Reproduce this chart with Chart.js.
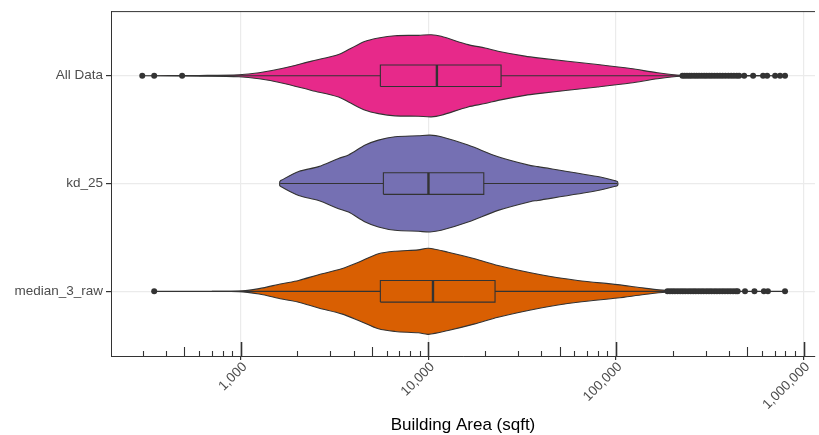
<!DOCTYPE html>
<html>
<head>
<meta charset="utf-8">
<script src="https://cdn.jsdelivr.net/npm/chart.js@4.4.1/dist/chart.umd.min.js"></script>
<style>
  body { margin: 0; background: #ffffff; }
  #wrap { width: 819px; height: 435px; }
</style>
</head>
<body>
<div id="wrap"><canvas id="myChart"></canvas></div>
<script>
// categories, top to bottom
const categories = ['All Data', 'kd_25', 'median_3_raw'];
const colors = ['#E7298A', '#7570B3', '#D95F02'];

// violin outlines: building area (sqft) and half width (category units)
const allDataArea = [298, 600, 976, 1250, 1652, 2383, 3317, 3749, 4602, 5409, 6637, 8836, 10350, 11690, 16260, 20030, 23500, 32680, 38300, 79830, 119600, 166300, 220500, 350000, 816000];
const allDataWidth = [0, 0.003, 0.009, 0.028, 0.067, 0.136, 0.197, 0.243, 0.320, 0.351, 0.372, 0.375, 0.381, 0.366, 0.289, 0.258, 0.228, 0.182, 0.166, 0.104, 0.067, 0.028, 0.005, 0.002, 0];

const kd25Area = [1611, 1640, 2032, 2594, 3317, 3749, 4602, 5409, 6637, 8836, 10190, 11690, 16260, 23500, 35160, 38300, 79830, 99500, 101900];
const kd25Width = [0.018, 0.030, 0.111, 0.157, 0.233, 0.265, 0.357, 0.403, 0.434, 0.443, 0.449, 0.434, 0.357, 0.249, 0.166, 0.157, 0.065, 0.025, 0.018];

const median3Area = [345, 976, 1250, 1652, 2032, 2594, 3443, 4239, 5409, 6637, 8836, 9977, 12740, 17650, 23500, 39730, 62490, 101900, 141400, 183500, 300000, 796000];
const median3Width = [0, 0.003, 0.025, 0.071, 0.101, 0.154, 0.209, 0.270, 0.348, 0.372, 0.385, 0.399, 0.363, 0.302, 0.240, 0.154, 0.101, 0.062, 0.030, 0.009, 0.002, 0];

// boxplot stats: [whisker low, Q1, median, Q3, whisker high]
const allDataBox = [600, 5540, 11090, 24380, 220000];
const kd25Box = [1620, 5750, 10000, 19720, 101500];
const median3Box = [700, 5540, 10570, 22640, 183000];

// outliers
const allDataOutliers = [298, 345, 486,
  226000, 232000, 239000, 246000, 253000, 261000, 269000, 277000, 286000, 295000, 304000, 314000,
  324000, 335000, 346000, 358000, 370000, 383000, 397000, 411000, 425000, 440000, 453000,
  482000, 538000, 608000, 639000, 705000, 749000, 796000];
const kd25Outliers = [];
const median3Outliers = [345,
  188000, 194000, 200000, 206000, 213000, 220000, 227000, 234000, 242000, 250000, 258000, 266000,
  275000, 284000, 293000, 303000, 313000, 323000, 334000, 345000, 357000, 369000, 381000, 394000,
  407000, 421000, 435000, 445000, 487000, 547000, 614000, 645000, 796000];

const xTicks = [1000, 10000, 100000, 1000000];

const boxHalf = 0.1;

function violinPoints(area, width, pos) {
    var top = area.map(function (a, i) { return {x: a, y: pos + width[i]}; });
    var bottom = [];
    for (var i = area.length - 1; i >= 0; i--) {
        if (width[i] > 0) bottom.push({x: area[i], y: pos - width[i]});
    }
    return top.concat(bottom, [top[0]]);
}

function lineSet(points, width, order) {
    return {
        data: points, borderColor: '#333333', borderWidth: width,
        pointRadius: 0, fill: false, tension: 0, order: order
    };
}

const series = [
    [allDataArea, allDataWidth, allDataBox, allDataOutliers],
    [kd25Area, kd25Width, kd25Box, kd25Outliers],
    [median3Area, median3Width, median3Box, median3Outliers]
];

var datasets = [];
series.forEach(function (s, i) {
    var pos = 3 - i;
    var b = s[2];
    datasets.push({
        data: violinPoints(s[0], s[1], pos),
        fill: 'shape',
        backgroundColor: colors[i],
        borderColor: '#333333',
        borderWidth: 1.1,
        pointRadius: 0,
        tension: 0.3,
        order: 5
    });
    // whiskers
    datasets.push(lineSet([{x: b[0], y: pos}, {x: b[1], y: pos}], 1.1, 3));
    datasets.push(lineSet([{x: b[3], y: pos}, {x: b[4], y: pos}], 1.1, 3));
    // box
    datasets.push(lineSet([
        {x: b[1], y: pos - boxHalf}, {x: b[3], y: pos - boxHalf},
        {x: b[3], y: pos + boxHalf}, {x: b[1], y: pos + boxHalf},
        {x: b[1], y: pos - boxHalf}
    ], 1.1, 2));
    // median
    datasets.push(lineSet([{x: b[2], y: pos - boxHalf}, {x: b[2], y: pos + boxHalf}], 2.4, 2));
    // outliers
    datasets.push({
        data: s[3].map(function (v) { return {x: v, y: pos}; }),
        showLine: false,
        pointRadius: 3,
        pointBackgroundColor: '#333333',
        pointBorderWidth: 0,
        order: 1
    });
});

// top border + log ticks along the bottom of the panel
const panelExtras = {
    id: 'panelExtras',
    afterDraw: function (chart) {
        var ctx = chart.ctx;
        var area = chart.chartArea;
        var xs = chart.scales.x;
        ctx.save();
        ctx.strokeStyle = '#333333';
        ctx.lineWidth = 1;
        ctx.beginPath();
        ctx.moveTo(area.left, area.top + 0.5);
        ctx.lineTo(area.right, area.top + 0.5);
        ctx.stroke();
        for (var e = 2; e <= 6; e++) {
            for (var m = 1; m <= 9; m++) {
                var v = m * Math.pow(10, e);
                if (v < xs.min || v > xs.max) continue;
                var px = Math.round(xs.getPixelForValue(v)) + 0.5;
                var len = m === 1 ? 14 : (m === 5 ? 9 : 5);
                ctx.lineWidth = m === 1 ? 1.6 : 1.1;
                ctx.beginPath();
                ctx.moveTo(px, area.bottom);
                ctx.lineTo(px, area.bottom - len);
                ctx.stroke();
            }
        }
        ctx.restore();
    }
};

Chart.defaults.font.family = "'Liberation Sans', Arial, sans-serif";

const ctx = document.getElementById('myChart').getContext('2d');
const myChart = new Chart(ctx, {
    type: 'line',
    data: { datasets: datasets },
    options: {
        responsive: true,
        maintainAspectRatio: false,
        animation: false,
        layout: { padding: { top: 9, right: 1, left: 0, bottom: 0 } },
        plugins: {
            legend: { display: false },
            tooltip: { enabled: false }
        },
        scales: {
            x: {
                type: 'logarithmic',
                min: 203,
                max: 1150000,
                afterBuildTicks: function (scale) {
                    scale.ticks = xTicks.map(function (v) { return {value: v}; });
                },
                afterFit: function (scale) { scale.height = 79; },
                ticks: {
                    autoSkip: false,
                    minRotation: 45,
                    maxRotation: 45,
                    padding: -1,
                    labelOffset: 4,
                    color: '#4D4D4D',
                    font: { size: 13.5 },
                    callback: function (value) { return Number(value).toLocaleString('en-US'); }
                },
                grid: { color: '#EBEBEB', lineWidth: 1.2, tickLength: 4, tickColor: '#333333' },
                border: { color: '#333333', width: 1 },
                title: {
                    display: true,
                    text: 'Building Area (sqft)',
                    color: '#000000',
                    font: { size: 17, lineHeight: 1.1 },
                    padding: { top: 0, bottom: 0 }
                }
            },
            y: {
                type: 'linear',
                min: 0.4,
                max: 3.6,
                afterBuildTicks: function (scale) {
                    scale.ticks = [{value: 1}, {value: 2}, {value: 3}];
                },
                afterFit: function (scale) { scale.width = 111; },
                ticks: {
                    padding: 3,
                    color: '#4D4D4D',
                    font: { size: 13.5 },
                    callback: function (value) { return categories[3 - value]; }
                },
                grid: { color: '#EBEBEB', lineWidth: 1.2, tickLength: 5, tickColor: '#333333' },
                border: { color: '#333333', width: 1 }
            }
        }
    },
    plugins: [panelExtras]
});
</script>
</body>
</html>
